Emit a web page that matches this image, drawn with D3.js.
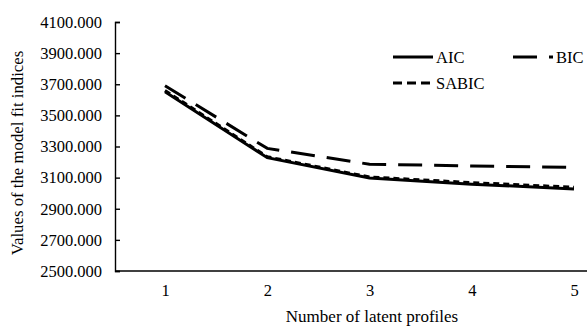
<!DOCTYPE html>
<meta charset="utf-8">
<style>
    body { margin: 0; overflow: hidden; background: #fff; }
    svg text { font-family: "Liberation Serif", "Times New Roman", Times, serif !important; fill: #000; }
</style>
<svg id="canvas" width="587" height="326"></svg>
<script src="https://d3js.org/d3.v7.min.js"></script>
<script>

    var profiles = [1, 2, 3, 4, 5];
    var aic   = [3652, 3228, 3098, 3058, 3027];
    var bic   = [3690, 3288, 3186, 3175, 3166];
    var sabic = [3660, 3234, 3104, 3068, 3038];
    var yTicks = [2500, 2700, 2900, 3100, 3300, 3500, 3700, 3900, 4100];

    var svg = d3.select("svg");

    var x = d3.scaleLinear().domain([1, 5]).range([165, 574]);
    var y = d3.scaleLinear().domain([2500, 4100]).range([271, 22]);

    // y axis, ticks point inward
    var yAxis = d3.axisLeft(y).tickValues(yTicks).tickSize(-5).tickPadding(13)
                  .tickFormat(d3.format(".3f"));
    var gy = svg.append("g").attr("transform", "translate(115,0)").call(yAxis);
    gy.attr("font-family", null);
    gy.select(".domain").attr("stroke", "#000").attr("stroke-width", 1.4);
    gy.selectAll(".tick line").attr("stroke", "#000").attr("stroke-width", 1.4);
    gy.selectAll(".tick text").attr("font-size", 16.5);

    // x axis: no tick marks
    var xAxis = d3.axisBottom(x).tickValues(profiles).tickSize(0).tickPadding(13)
                  .tickFormat(d3.format("d"));
    var gx = svg.append("g").attr("transform", "translate(0,271)").call(xAxis);
    gx.attr("font-family", null);
    gx.select(".domain").remove();
    gx.append("line").attr("x1", 115).attr("x2", 587).attr("y1", 0).attr("y2", 0)
      .attr("stroke", "#000").attr("stroke-width", 1.4);
    gx.selectAll(".tick text").attr("font-size", 16.5);

    svg.append("text").attr("x", 372).attr("y", 322).attr("text-anchor", "middle")
       .attr("font-size", 17).text("Number of latent profiles");

    svg.append("text").attr("transform", "translate(23,153) rotate(-90)")
       .attr("text-anchor", "middle").attr("font-size", 16.8)
       .text("Values of the model fit indices");

    var line = d3.line().x(function(d, i) { return x(profiles[i]); }).y(function(d) { return y(d); });

    var series = [
        {name: "SABIC", values: sabic, dash: "6,4"},
        {name: "BIC", values: bic, dash: "24,12"},
        {name: "AIC", values: aic, dash: null}
    ];

    svg.append("g").selectAll("path").data(series).enter().append("path")
       .attr("d", function(d) { return line(d.values); })
       .attr("fill", "none").attr("stroke", "#000").attr("stroke-width", 3)
       .attr("stroke-dasharray", function(d) { return d.dash; });

    // legend
    var legend = [
        {name: "AIC", dash: null, lx: 393, ly: 57},
        {name: "BIC", dash: "24,12", lx: 513, ly: 57},
        {name: "SABIC", dash: "9,5", lx: 393, ly: 83}
    ];
    var lg = svg.append("g").selectAll("g").data(legend).enter().append("g");
    lg.append("line")
      .attr("x1", function(d) { return d.lx; }).attr("x2", function(d) { return d.lx + 40; })
      .attr("y1", function(d) { return d.ly; }).attr("y2", function(d) { return d.ly; })
      .attr("stroke", "#000").attr("stroke-width", 3)
      .attr("stroke-dasharray", function(d) { return d.dash; });
    lg.append("text")
      .attr("x", function(d) { return d.lx + 43; }).attr("y", function(d) { return d.ly + 5.5; })
      .attr("font-size", 16.5).text(function(d) { return d.name; });

</script>
